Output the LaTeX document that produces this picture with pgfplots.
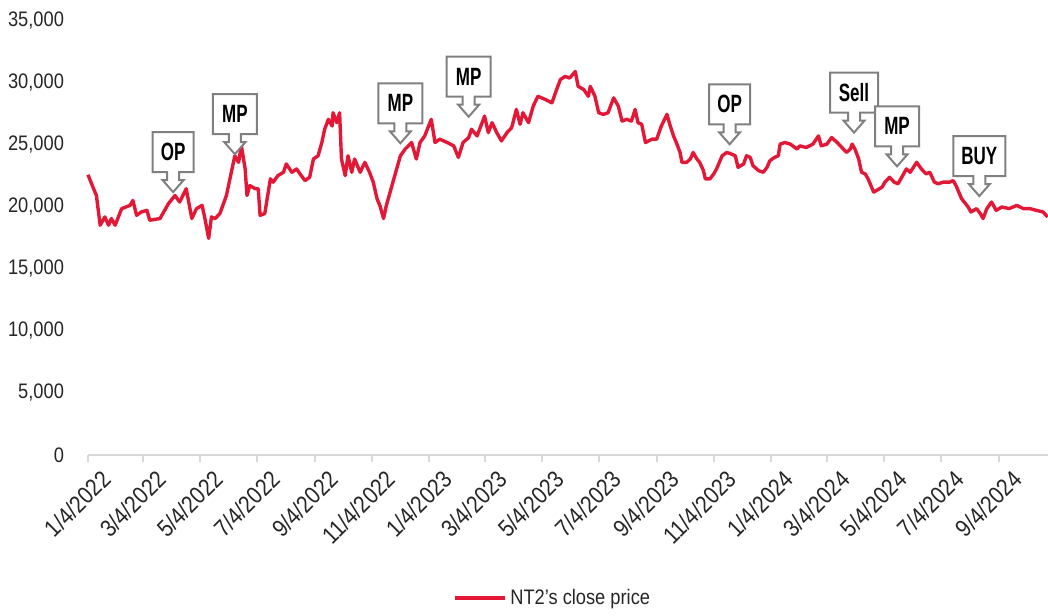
\documentclass[border=0pt]{standalone}
\usepackage{fontspec}
\setmainfont[FakeStretch=0.87]{Liberation Sans}
\newfontfamily\calloutfont[FakeStretch=0.68]{Liberation Sans}
\usepackage{pgfplots}
\pgfplotsset{compat=1.18}
\definecolor{ntred}{HTML}{E31837}
\definecolor{axgray}{HTML}{D9D9D9}
\definecolor{cgray}{HTML}{808080}
\newcommand{\callout}[4]{%
 \draw[cgray, line width=1pt, fill=white, line join=miter] (axis cs:#1,#2) -- ++(-5.25pt,6pt) -- ++(2.25pt,0pt) -- ++(0pt,4pt) -- ++({-0.5*#3+3pt},0pt) -- ++(0pt,20pt) -- ++(#3,0pt) -- ++(0pt,-20pt) -- ++({-0.5*#3+3pt},0pt) -- ++(0pt,-4pt) -- ++(2.25pt,0pt) -- cycle;
 \node[font={\calloutfont\bfseries\fontsize{12.5}{13}\selectfont}, text=black, inner sep=0pt] at ([yshift=20pt]axis cs:#1,#2) {#4};
}
\begin{document}
\begin{tikzpicture}
\begin{axis}[
 scale only axis, width=480pt, height=217pt,
 xmin=0, xmax=1026.4, ymin=0, ymax=35000,
 axis x line*=bottom, axis y line*=left,
 x axis line style={axgray, line width=1pt, -},
 y axis line style={draw=none},
 xtick={0,59,120,181,243,304,365,424,485,546,608,669,730,790,851,912,974},
 xticklabels={1/4/2022,3/4/2022,5/4/2022,7/4/2022,9/4/2022,11/4/2022,1/4/2023,3/4/2023,5/4/2023,7/4/2023,9/4/2023,11/4/2023,1/4/2024,3/4/2024,5/4/2024,7/4/2024,9/4/2024},
 xtick style={axgray, line width=1pt},
 tick align=outside, major tick length=3.5pt,
 ytick={0,5000,...,35000},
 scaled y ticks=false,
 ytick style={draw=none},
 yticklabel style={anchor=east, xshift=-5pt, font=\fontsize{10.5}{12}\selectfont, text=black!85},
 xticklabel style={rotate=45, anchor=north east, inner sep=0pt, xshift=2pt, yshift=-6.5pt, font=\fontsize{12}{13}\selectfont, text=black!85},
 /pgf/number format/1000 sep={,},
 /pgf/number format/assume math mode=true,
 legend style={at={(0.485,-0.3295)}, anchor=center, draw=none, fill=none, font=\fontsize{10.5}{12}\selectfont, text=black!85},
 legend image code/.code={\draw[#1, line width=1.6pt] (0pt,0pt) -- (25pt,0pt);},
 clip=false,
]
\addplot[ntred, line width=1.7pt, line join=round] coordinates {
(0,22600) (6,21470) (9,20930) (13,18530) (18,19200) (22,18530) (25,19070) (29,18530) (36,19870) (45,20130)
(48,20530) (52,19330) (57,19600) (63,19730) (66,18930) (77,19070) (86,20270) (93,20930) (98,20400) (105,21470)
(111,19070) (116,19870) (122,20130) (125,19070) (129,17470) (132,19200) (136,19070) (141,19470) (148,20930) (154,23070)
(157,24130) (161,23600) (164,24930) (168,23070) (170,20930) (173,21730) (179,21470) (182,21470) (184,19330) (189,19470)
(195,22270) (198,22000) (203,22530) (209,22800) (212,23470) (218,22800) (223,23070) (228,22530) (232,22130) (237,22400)
(241,23870) (246,24130) (250,25200) (253,26270) (257,27070) (261,26530) (262,27600) (266,26800) (269,27600) (271,23870)
(275,22530) (278,24130) (282,22800) (285,23870) (291,22800) (296,23600) (301,22800) (305,22000) (309,20670) (312,20130)
(316,19070) (319,20130) (325,21730) (330,23070) (334,24130) (339,24660) (346,25200) (351,23870) (355,25200) (360,25730)
(367,27070) (371,25200) (376,25470) (384,25200) (391,24930) (396,24000) (401,25200) (407,25600) (410,26270) (416,25730)
(424,27330) (428,26000) (432,26800) (437,26000) (442,25330) (448,26000) (453,26400) (458,27870) (462,26670) (465,27600)
(471,26800) (476,28130) (481,28930) (489,28670) (496,28400) (501,29470) (505,30270) (510,30530) (515,30400) (521,30930)
(524,29730) (530,29470) (535,28930) (537,29730) (542,28930) (546,27600) (551,27470) (556,27600) (562,28800) (567,28130)
(571,26930) (576,27070) (581,26930) (585,27870) (588,26800) (592,26670) (596,25200) (603,25470) (608,25470) (613,26530)
(619,27470) (622,26670) (626,25730) (629,25200) (633,24400) (635,23600) (640,23600) (644,23870) (647,24400) (651,23870)
(654,23600) (658,22930) (660,22270) (665,22270) (669,22670) (672,23070) (678,24130) (683,24400) (688,24270) (692,24130)
(695,23200) (701,23470) (704,24130) (708,24000) (711,23330) (717,22930) (722,22800) (726,23200) (729,23730) (734,24000)
(738,24130) (740,25070) (745,25200) (751,25070) (758,24670) (761,24930) (768,24800) (775,25070) (781,25730) (784,24930)
(790,25070) (795,25600) (801,25200) (806,24800) (811,24400) (815,24670) (817,25070) (820,24670) (824,23870) (827,22800)
(831,22670) (834,22270) (840,21200) (843,21330) (849,21600) (852,22000) (857,22400) (862,22000) (866,21870) (871,22530)
(875,23070) (879,22800) (886,23600) (891,23070) (896,22670) (900,22800) (905,22000) (909,21870) (914,22000) (921,22000)
(925,22130) (928,21730) (934,20670) (941,20000) (944,19600) (950,19870) (954,19470) (957,19070) (961,19870) (966,20400)
(971,19730) (977,20000) (985,19870) (993,20130) (1000,19870) (1007,19870) (1014,19730) (1021,19600) (1026,19200)
};
\addlegendentry{NT2's close price}
\coordinate (sw) at (rel axis cs:0,0);
\callout{91}{21200}{20.5pt}{OP}
\callout{157}{24260}{22pt}{MP}
\callout{334}{25140}{22pt}{MP}
\callout{407}{27280}{22pt}{MP}
\callout{686}{25060}{20.5pt}{OP}
\callout{819}{26000}{24pt}{Sell}
\callout{865}{23280}{22pt}{MP}
\callout{953}{20880}{26pt}{BUY}
\end{axis}
\pgfresetboundingbox
\path[use as bounding box] (sw) ++(-44pt,-80pt) rectangle ++(524pt,307.5pt);
\end{tikzpicture}
\end{document}
